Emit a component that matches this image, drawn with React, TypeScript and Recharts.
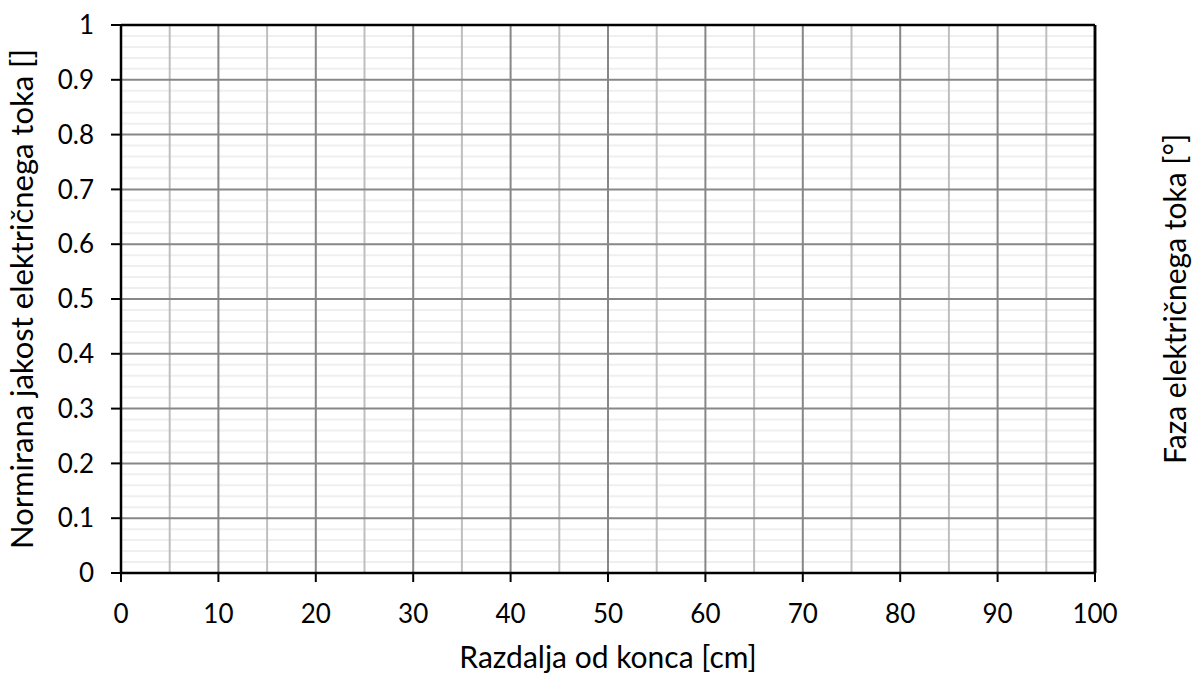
import React from "react";
import {
  ComposedChart,
  XAxis,
  YAxis,
  ReferenceLine,
  Line,
} from "recharts";

const xMajorTicks = [0, 10, 20, 30, 40, 50, 60, 70, 80, 90, 100];
const xMinorTicks = [5, 15, 25, 35, 45, 55, 65, 75, 85, 95];
const yMajorTicks = [0, 0.1, 0.2, 0.3, 0.4, 0.5, 0.6, 0.7, 0.8, 0.9, 1];
const yMinorTicks = [
  0.02, 0.04, 0.06, 0.08, 0.12, 0.14, 0.16, 0.18, 0.22, 0.24, 0.26, 0.28,
  0.32, 0.34, 0.36, 0.38, 0.42, 0.44, 0.46, 0.48, 0.52, 0.54, 0.56, 0.58,
  0.62, 0.64, 0.66, 0.68, 0.72, 0.74, 0.76, 0.78, 0.82, 0.84, 0.86, 0.88,
  0.92, 0.94, 0.96, 0.98,
];
// The reference chart holds no measured values: x positions only, no y values.
const seriesData: { x: number; y: number | null }[] = xMajorTicks.map((x) => ({
  x,
  y: null,
}));

const FONT = "Lato, 'Open Sans', sans-serif";

export default function App() {
  return (
    <div style={{ position: "absolute", left: 0, top: 0, background: "#fff" }}>
      <ComposedChart
        width={1192}
        height={673}
        data={seriesData}
        margin={{ top: 25, right: 0, bottom: 0, left: 0 }}
      >
        {yMinorTicks.map((v) => (
          <ReferenceLine
            key={"ym" + v}
            yAxisId="left"
            y={v}
            stroke="#efefef"
            strokeWidth={2}
            ifOverflow="extendDomain"
          />
        ))}
        {xMinorTicks.map((v) => (
          <ReferenceLine
            key={"xm" + v}
            yAxisId="left"
            x={v}
            stroke="#bfbfbf"
            strokeWidth={2}
          />
        ))}
        {yMajorTicks.slice(1, -1).map((v) => (
          <ReferenceLine
            key={"yM" + v}
            yAxisId="left"
            y={v}
            stroke="#878787"
            strokeWidth={2}
            ifOverflow="extendDomain"
          />
        ))}
        {xMajorTicks.slice(1, -1).map((v) => (
          <ReferenceLine
            key={"xM" + v}
            yAxisId="left"
            x={v}
            stroke="#878787"
            strokeWidth={2}
          />
        ))}
        <ReferenceLine
          yAxisId="left"
          y={1}
          stroke="#000"
          strokeWidth={2.5}
          ifOverflow="extendDomain"
        />
        <ReferenceLine yAxisId="left" x={100} stroke="#000" strokeWidth={2.5} />
        <XAxis
          dataKey="x"
          type="number"
          domain={[0, 100]}
          ticks={xMajorTicks}
          interval={0}
          height={100}
          tickSize={9}
          tickMargin={23}
          axisLine={{ stroke: "#000", strokeWidth: 2.5 }}
          tickLine={{ stroke: "#000", strokeWidth: 2 }}
          tick={{ fill: "#000", fontSize: 26, fontFamily: FONT }}
          label={{
            value: "Razdalja od konca [cm]",
            position: "insideBottom",
            offset: 5,
            fill: "#000",
            fontSize: 30,
            fontFamily: FONT,
          }}
        />
        <YAxis
          yAxisId="left"
          type="number"
          domain={[0, 1]}
          allowDataOverflow
          ticks={yMajorTicks}
          interval={0}
          width={121}
          tickSize={10}
          tickMargin={17}
          axisLine={{ stroke: "#000", strokeWidth: 2.5 }}
          tickLine={{ stroke: "#000", strokeWidth: 2 }}
          tick={{ fill: "#000", fontSize: 26, fontFamily: FONT }}
          label={{
            value: "Normirana jakost električnega toka []",
            angle: -90,
            position: "insideLeft",
            offset: 22,
            style: { textAnchor: "middle" },
            fill: "#000",
            fontSize: 31,
            fontFamily: FONT,
          }}
        />
        <YAxis
          yAxisId="right"
          orientation="right"
          type="number"
          domain={[0, 1]}
          allowDataOverflow
          width={97}
          tick={false}
          tickLine={false}
          axisLine={{ stroke: "#000", strokeWidth: 2.5 }}
          label={{
            value: "Faza električnega toka [°]",
            angle: -90,
            position: "insideRight",
            offset: 17,
            style: { textAnchor: "middle" },
            fill: "#000",
            fontSize: 30,
            fontFamily: FONT,
          }}
        />
        <Line
          yAxisId="left"
          dataKey="y"
          stroke="#000"
          dot={false}
          isAnimationActive={false}
        />
      </ComposedChart>
    </div>
  );
}
